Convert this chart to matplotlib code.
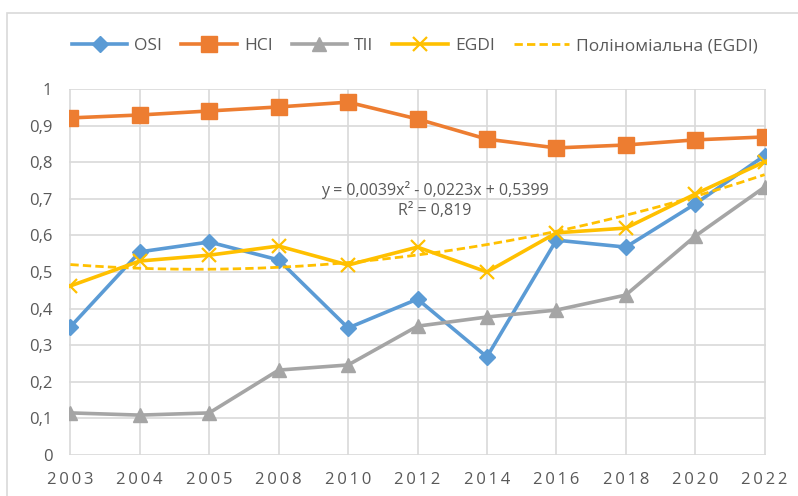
import matplotlib.pyplot as plt
import numpy as np

# categories and series
years = ['2003', '2004', '2005', '2008', '2010', '2012', '2014', '2016', '2018', '2020', '2022']
osi = [0.350, 0.555, 0.582, 0.533, 0.347, 0.426, 0.268, 0.587, 0.568, 0.686, 0.818]
hci = [0.921, 0.929, 0.940, 0.951, 0.964, 0.918, 0.863, 0.839, 0.847, 0.861, 0.869]
tii = [0.115, 0.109, 0.115, 0.232, 0.246, 0.352, 0.377, 0.396, 0.437, 0.598, 0.732]
egdi = [0.462, 0.530, 0.546, 0.571, 0.519, 0.568, 0.500, 0.607, 0.620, 0.713, 0.801]
yticks = [0, 0.1, 0.2, 0.3, 0.4, 0.5, 0.6, 0.7, 0.8, 0.9, 1.0]

plt.rcParams['font.family'] = ['Open Sans', 'DejaVu Sans']

fig = plt.figure(figsize=(7.98, 4.96), dpi=100)
ax = fig.add_axes([69/798, 1 - 455/496, (766 - 69)/798, (455 - 89)/496])

x = np.arange(len(years))

# polynomial trendline (2nd order) for EGDI, like Excel does with x = 1..n
coef = np.polyfit(x + 1, egdi, 2)
xs = np.linspace(0, len(years) - 1, 200)
trend = np.polyval(coef, xs + 1)

ax.plot(x, osi, color='#5B9BD5', lw=2.6, marker='D', ms=8, label='OSI', zorder=3)
ax.plot(x, hci, color='#ED7D31', lw=2.6, marker='s', ms=11, label='HCI', zorder=3)
ax.plot(x, tii, color='#A5A5A5', lw=2.6, marker='^', ms=10, label='TII', zorder=3)
ax.plot(x, egdi, color='#FFC000', lw=2.6, marker='x', ms=10, mew=1.6, label='EGDI', zorder=4)
ax.plot(xs, trend, color='#FFC000', lw=2.0, ls=(0, (3, 1.5)), label='Поліноміальна (EGDI)', zorder=4)

ax.set_xlim(-0.02, len(years) - 1 + 0.02)
ax.set_ylim(0, 1)
ax.set_xticks(x)
ax.set_xticklabels(['\u2009'.join(y) for y in years])
ax.set_yticks(yticks)
ax.set_yticklabels([('%g' % v).replace('.', ',') for v in yticks])
ax.tick_params(axis='both', length=0, colors='#595959', labelsize=12)
ax.tick_params(axis='x', pad=12)
ax.tick_params(axis='y', pad=12)
ax.grid(True, color='#D9D9D9', lw=1.2)
for s in ax.spines.values():
    s.set_visible(False)

ax.text(435/798, 1 - 200/496, 'y = 0,0039x² - 0,0223x + 0,5399\nR² = 0,819', transform=fig.transFigure,
        ha='center', va='center', fontsize=11.5, color='#595959', linespacing=1.35)

fig.legend(loc='center', bbox_to_anchor=(415/798, 1 - 46/496), ncol=5, frameon=False,
           fontsize=12.5, labelcolor='#595959', handlelength=3.2, columnspacing=1.1, handletextpad=0.4)

# outer chart border
fig.patches.append(plt.Rectangle((7/798, -0.01), 1, 1 - 13/496 + 0.01, transform=fig.transFigure,
                                 fill=False, ec='#D9D9D9', lw=1.2))

fig.savefig('out.png', dpi=100)
